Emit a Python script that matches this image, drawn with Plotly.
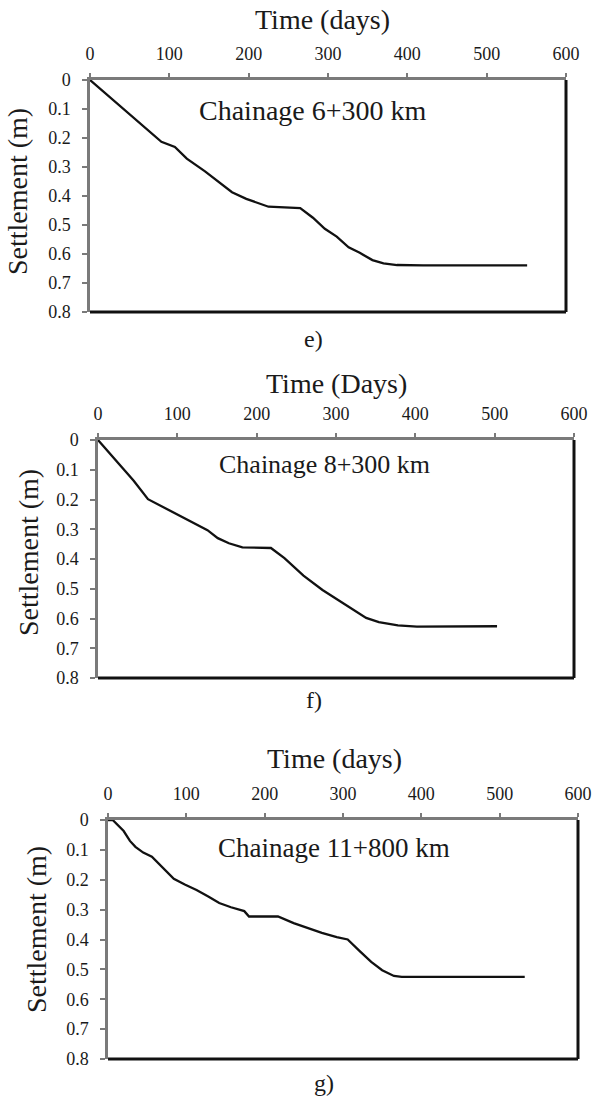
import plotly.graph_objects as go

# ---------------- data ----------------
days_e = [0, 90, 107, 122, 145, 160, 179, 197, 225, 265, 281, 296, 311, 326, 340, 356, 370, 387, 420, 551]
settle_e = [0, 0.213, 0.231, 0.271, 0.315, 0.347, 0.387, 0.410, 0.437, 0.442, 0.475, 0.513, 0.540, 0.577,
            0.596, 0.621, 0.632, 0.638, 0.639, 0.639]

days_f = [0, 45, 63, 91, 138, 151, 165, 182, 218, 235, 259, 283, 307, 323, 338, 354, 378, 402, 503]
settle_f = [0, 0.137, 0.199, 0.238, 0.303, 0.330, 0.347, 0.361, 0.363, 0.397, 0.456, 0.504, 0.545, 0.575,
            0.598, 0.612, 0.623, 0.627, 0.626]

days_g = [0, 6, 20, 28, 35, 45, 56, 69, 84, 98, 113, 128, 142, 157, 174, 180, 217, 237, 254, 273, 292, 306,
          321, 336, 350, 365, 375, 532]
settle_g = [0, 0, 0.037, 0.070, 0.090, 0.109, 0.123, 0.159, 0.197, 0.216, 0.234, 0.256, 0.278, 0.292, 0.305,
            0.323, 0.323, 0.345, 0.361, 0.378, 0.392, 0.400, 0.438, 0.475, 0.503, 0.522, 0.525, 0.525]

x_ticks = [0, 100, 200, 300, 400, 500, 600]
y_ticks = [0, 0.1, 0.2, 0.3, 0.4, 0.5, 0.6, 0.7, 0.8]
y_tick_text = ["0", "0.1", "0.2", "0.3", "0.4", "0.5", "0.6", "0.7", "0.8"]

panel_titles = ["Time (days)", "Time (Days)", "Time (days)"]
panel_notes = ["Chainage 6+300 km", "Chainage 8+300 km", "Chainage 11+800 km"]
panel_letters = ["e)", "f)", "g)"]
y_title = "Settlement (m)"

# ---------------- layout helpers ----------------
W, H = 595, 1097
FONT = "Liberation Serif, Times New Roman, serif"
TXT = "#1a1a1a"
GRAY = "#7a7a7a"


def px(x):
    return x / W


def py(y):
    return 1 - y / H


# plot boxes in pixels: left, right, top, bottom
boxes = [(90, 566, 80, 312), (98, 574, 440, 678), (108, 578, 820, 1059)]
title_pos = [(322, 20), (336, 383), (334, 758)]
ylab_pos = [(17, 192), (28, 553), (36, 930)]
note_pos = [(313, 110), (325, 464), (334, 848)]
note_size = [28, 26, 27]
letter_pos = [(313, 339), (314, 700), (324, 1083)]

series = [(days_e, settle_e), (days_f, settle_f), (days_g, settle_g)]

fig = go.Figure()
layout = dict(
    width=W, height=H,
    margin=dict(l=0, r=0, t=0, b=0, autoexpand=False),
    paper_bgcolor="white", plot_bgcolor="white",
    showlegend=False,
    font=dict(family=FONT, color=TXT),
)
annotations = []
shapes = []

for i, ((l, r, t, b), (xs, ys)) in enumerate(zip(boxes, series)):
    n = "" if i == 0 else str(i + 1)
    xa, ya = "x" + n, "y" + n
    fig.add_trace(go.Scatter(x=xs, y=ys, mode="lines", xaxis=xa, yaxis=ya,
                             line=dict(color="#111111", width=2.3), hoverinfo="skip"))
    layout["xaxis" + n] = dict(
        domain=[px(l), px(r)], anchor=ya, side="top", range=[0, 600], automargin=False,
        tickvals=x_ticks, ticks="outside", ticklen=4, tickwidth=1.5, tickcolor=GRAY,
        showline=True, linecolor=GRAY, linewidth=2.5, showgrid=False, zeroline=False,
        tickfont=dict(family=FONT, size=18, color=TXT), ticklabelstandoff=6,
    )
    layout["yaxis" + n] = dict(
        domain=[py(b), py(t)], anchor=xa, range=[0.8, 0], automargin=False,
        tickvals=y_ticks, ticktext=y_tick_text, ticks="outside", ticklen=5, tickwidth=1.5, tickcolor=GRAY,
        showline=True, linecolor=GRAY, linewidth=2.5, showgrid=False, zeroline=False,
        tickfont=dict(family=FONT, size=18, color=TXT), ticklabelstandoff=8,
    )
    # black right and bottom frame
    shapes.append(dict(type="line", xref=xa + " domain", yref=ya + " domain",
                       x0=1, x1=1, y0=0, y1=1, line=dict(color="#111111", width=3)))
    shapes.append(dict(type="line", xref=xa + " domain", yref=ya + " domain",
                       x0=0, x1=1, y0=0, y1=0, line=dict(color="#111111", width=3)))

    tx, ty = title_pos[i]
    annotations.append(dict(text=panel_titles[i], x=px(tx), y=py(ty), xref="paper", yref="paper",
                            showarrow=False, xanchor="center", yanchor="middle",
                            font=dict(family=FONT, size=28, color=TXT)))
    lx, ly = ylab_pos[i]
    annotations.append(dict(text=y_title, x=px(lx), y=py(ly), xref="paper", yref="paper",
                            showarrow=False, xanchor="center", yanchor="middle", textangle=-90,
                            font=dict(family=FONT, size=28, color=TXT)))
    nx, ny = note_pos[i]
    annotations.append(dict(text=panel_notes[i], x=px(nx), y=py(ny), xref="paper", yref="paper",
                            showarrow=False, xanchor="center", yanchor="middle",
                            font=dict(family=FONT, size=note_size[i], color=TXT)))
    ex, ey = letter_pos[i]
    annotations.append(dict(text=panel_letters[i], x=px(ex), y=py(ey), xref="paper", yref="paper",
                            showarrow=False, xanchor="center", yanchor="middle",
                            font=dict(family=FONT, size=24, color=TXT)))

layout["annotations"] = annotations
layout["shapes"] = shapes
fig.update_layout(**layout)
fig.write_html("out.html",
               config={"displayModeBar": False},
               post_script="document.body.style.margin='0';document.body.style.overflow='hidden';")
